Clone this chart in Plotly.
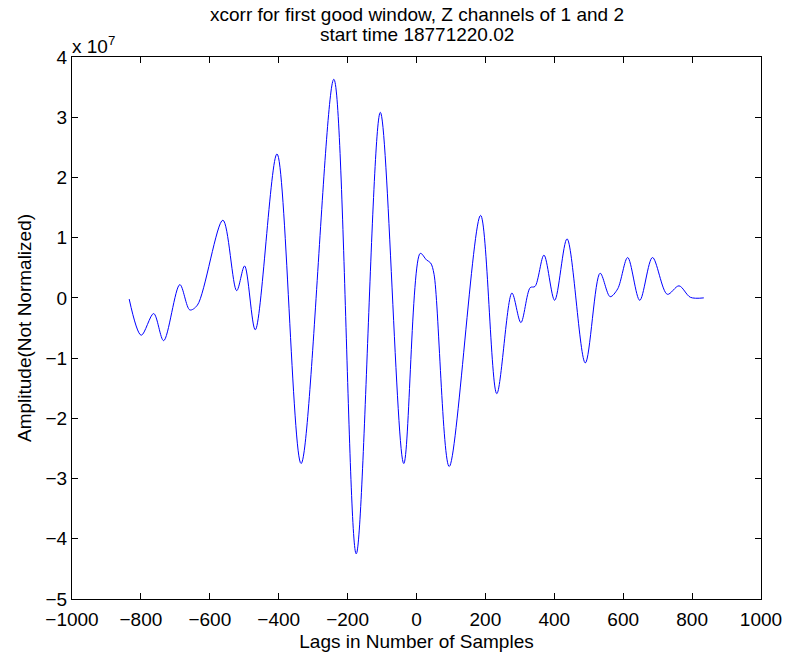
import plotly.graph_objects as go

# Lag (samples) and amplitude (units of 1e7)
lags = [-834, -799, -763, -734, -687, -658, -636, -562, -522, -499, -468,
        -405, -335, -240, -175, -105, -37, 11, 29, 41, 51, 95, 186, 233,
        277, 303, 330, 344, 370, 401, 437, 490, 533, 562, 584, 613, 648,
        685, 728, 762, 795, 834]
amp_e7 = [-0.02, -0.62, -0.26, -0.71, 0.22, -0.20, -0.12, 1.29, 0.12, 0.53, -0.53,
          2.39, -2.75, 3.63, -4.25, 3.08, -2.75, 0.74, 0.63, 0.58, 0.39, -2.80, 1.37, -1.59,
          0.08, -0.41, 0.17, 0.19, 0.71, -0.04, 0.98, -1.08, 0.41, 0.02, 0.15, 0.67, -0.04,
          0.67, 0.06, 0.20, 0.01, 0.00]

x_ticks = list(range(-1000, 1001, 200))
y_ticks = list(range(-5, 5))

title_lines = ["xcorr for first good window, Z channels of 1 and 2",
               "start time 18771220.02"]

font = "Liberation Sans, Arial, Helvetica, sans-serif"
FS = 19

def minus(v):
    return ("\u2212" + str(-v)) if v < 0 else str(v)

fig = go.Figure()
fig.add_trace(go.Scatter(x=lags, y=amp_e7, mode="lines",
                         line=dict(color="#0000ff", width=1, shape="spline", smoothing=0.9),
                         showlegend=False, hoverinfo="skip"))

axis_common = dict(showline=True, linecolor="black", linewidth=1, mirror="ticks",
                   ticks="inside", ticklen=6, tickcolor="black", showgrid=False,
                   zeroline=False, tickfont=dict(family=font, size=FS, color="black"))

W, H = 794, 660
L, R, T, B = 72, 766, 57, 604

fig.update_layout(
    width=W, height=H,
    margin=dict(l=L, r=W - R, t=T, b=H - B),
    paper_bgcolor="white", plot_bgcolor="white",
    font=dict(family=font, color="black", size=FS),
    xaxis=dict(range=[-1000, 1000], tickvals=x_ticks,
               ticktext=[minus(v) for v in x_ticks], ticklabelstandoff=3,
               title=dict(text="Lags in Number of Samples", font=dict(size=FS), standoff=5),
               **axis_common),
    yaxis=dict(range=[-5, 4], tickvals=y_ticks,
               ticktext=[minus(v) for v in y_ticks],
               title=dict(text="Amplitude(Not Normalized)", font=dict(size=FS), standoff=8),
               **axis_common),
    annotations=[
        dict(text=title_lines[0], xref="paper", yref="paper", x=0.5, y=1,
             xanchor="center", yanchor="middle", yshift=(T - 14), showarrow=False,
             font=dict(size=FS)),
        dict(text=title_lines[1], xref="paper", yref="paper", x=0.5, y=1,
             xanchor="center", yanchor="middle", yshift=(T - 34), showarrow=False,
             font=dict(size=FS)),
        dict(text="x 10<sup>7</sup>", xref="paper", yref="paper",
             x=0, y=1, xanchor="left", yanchor="middle", yshift=(T - 45), xshift=-2,
             showarrow=False, font=dict(size=FS)),
    ],
)

fig.write_html("out.html")
